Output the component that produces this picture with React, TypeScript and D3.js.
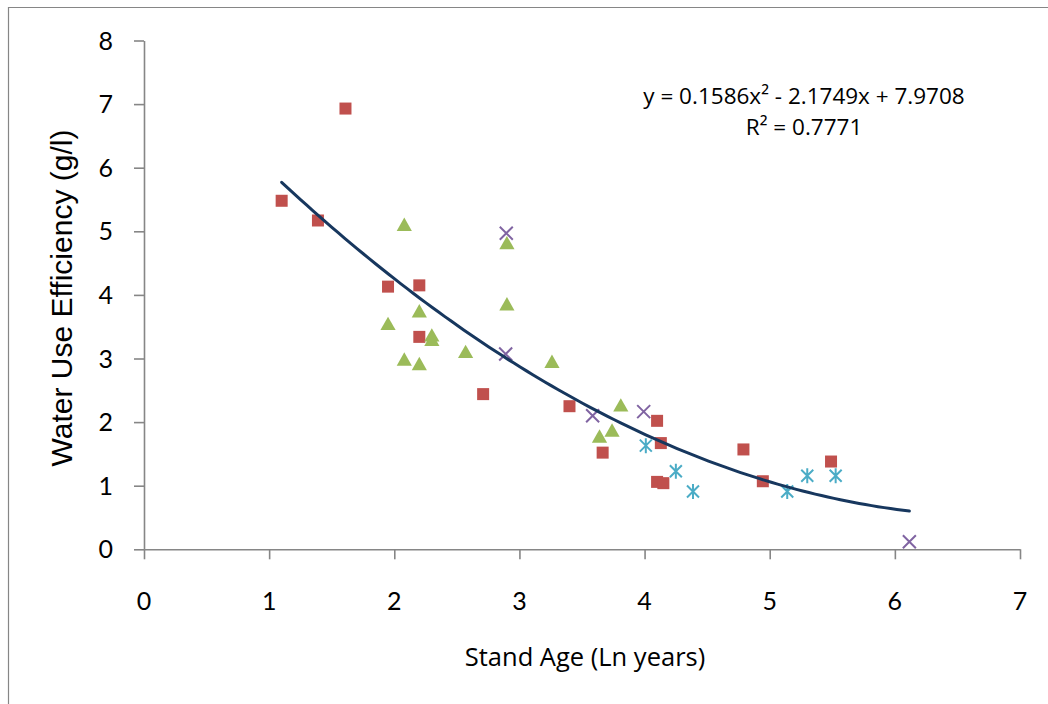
import React, { useEffect, useRef } from "react";
import * as d3 from "d3";

// stand age (ln years) / water use efficiency (g/l), one array pair per series
const squareX = [1.1, 1.39, 1.61, 1.95, 2.2, 2.2, 2.71, 3.4, 3.665, 4.1, 4.13, 4.1, 4.15, 4.79, 4.945, 5.49];
const squareY = [5.48, 5.17, 6.93, 4.13, 4.15, 3.34, 2.44, 2.25, 1.52, 2.02, 1.67, 1.06, 1.04, 1.57, 1.07, 1.38];

const triangleX = [2.08, 2.9, 2.9, 2.2, 1.95, 2.3, 2.3, 2.08, 2.2, 2.57, 3.26, 3.81, 3.74, 3.64];
const triangleY = [5.11, 4.82, 3.86, 3.75, 3.55, 3.37, 3.3, 2.99, 2.92, 3.11, 2.955, 2.27, 1.875, 1.78];

const crossX = [2.895, 2.89, 3.585, 3.993, 6.116];
const crossY = [4.97, 3.07, 2.1, 2.165, 0.12];

const starX = [4.01, 4.25, 4.387, 5.14, 5.3, 5.527];
const starY = [1.63, 1.226, 0.91, 0.91, 1.157, 1.157];

// polynomial trendline coefficients: a*x^2 + b*x + c
const trendCoef = [0.1586, -2.1749, 7.9708];
const equationLines = ["y = 0.1586x\u00B2 - 2.1749x + 7.9708", "R\u00B2 = 0.7771"];

const xTicks = [0, 1, 2, 3, 4, 5, 6, 7];
const yTicks = [0, 1, 2, 3, 4, 5, 6, 7, 8];

const xTitle = "Stand Age (Ln years)";
const yTitle = "Water Use Efficiency (g/l)";

function App() {
    const svgRef = useRef<SVGSVGElement | null>(null);

    let width = 1048;
    let height = 704;

    let plot = { left: 144, right: 1020, top: 40.5, bottom: 549.3 };

    let axisColor = "#868686";
    let labelFont = "Lato, 'Open Sans', sans-serif";
    let textFont = "'Open Sans', Lato, sans-serif";
    let redColor = "#C0504D";
    let greenColor = "#9BBB59";
    let purpleColor = "#8064A2";
    let cyanColor = "#4BACC6";
    let trendColor = "#17375E";

    useEffect(() => {
        let svg = d3.select(svgRef.current);
        svg.selectAll("*").remove();

        let xScale = d3.scaleLinear().domain([0, 7]).range([plot.left, plot.right]);
        let yScale = d3.scaleLinear().domain([0, 8]).range([plot.bottom, plot.top]);

        svg.append("rect")
            .attr("width", width)
            .attr("height", height)
            .style("fill", "#ffffff");

        // chart frame (cut off on right and bottom)
        svg.append("path")
            .attr("d", "M8.5," + height + " L8.5,7.5 L" + width + ",7.5")
            .style("fill", "none")
            .style("stroke", axisColor)
            .style("stroke-width", 1.2);

        // y axis
        let yAxis = d3.axisLeft(yScale).tickValues(yTicks).tickSizeInner(10).tickSizeOuter(0).tickFormat(() => "");
        let yg = svg.append("g").attr("transform", "translate(" + plot.left + ",0)").call(yAxis);
        yg.selectAll("path, line").style("stroke", axisColor).style("stroke-width", 1.6);

        // x axis
        let xAxis = d3.axisBottom(xScale).tickValues(xTicks).tickSizeInner(10).tickSizeOuter(0).tickFormat(() => "");
        let xg = svg.append("g").attr("transform", "translate(0," + plot.bottom + ")").call(xAxis);
        xg.selectAll("path, line").style("stroke", axisColor).style("stroke-width", 1.6);

        svg.selectAll(".y-label")
            .data(yTicks)
            .enter()
            .append("text")
            .attr("class", "y-label")
            .attr("x", plot.left - 31)
            .attr("y", (d) => yScale(d))
            .attr("dy", "0.36em")
            .attr("text-anchor", "end")
            .style("font-family", labelFont)
            .style("font-size", "25px")
            .style("fill", "#000")
            .text((d) => d);

        svg.selectAll(".x-label")
            .data(xTicks)
            .enter()
            .append("text")
            .attr("class", "x-label")
            .attr("x", (d) => xScale(d))
            .attr("y", 610)
            .attr("text-anchor", "middle")
            .style("font-family", labelFont)
            .style("font-size", "25px")
            .style("fill", "#000")
            .text((d) => d);

        // axis titles
        svg.append("text")
            .attr("x", 585)
            .attr("y", 666)
            .attr("text-anchor", "middle")
            .style("font-family", textFont)
            .style("font-size", "25.5px")
            .style("fill", "#000")
            .text(xTitle);

        svg.append("text")
            .attr("text-anchor", "middle")
            .attr("transform", "translate(72,298) rotate(-90)")
            .style("font-family", "'Liberation Sans', Arial, sans-serif")
            .style("font-size", "30px")
            .style("fill", "#000")
            .text(yTitle);

        // trendline
        let allX = squareX.concat(triangleX, crossX, starX);
        let xMin = d3.min(allX) as number;
        let xMax = d3.max(allX) as number;
        let xs = d3.range(0, 101).map((i) => xMin + ((xMax - xMin) * i) / 100);
        let trend = (x: number) => trendCoef[0] * x * x + trendCoef[1] * x + trendCoef[2];

        let line = d3
            .line<number>()
            .x((d) => xScale(d))
            .y((d) => yScale(trend(d)));

        // markers
        let sq = 12;
        svg.selectAll(".sq")
            .data(squareX)
            .enter()
            .append("rect")
            .attr("class", "sq")
            .attr("x", (d) => xScale(d) - sq / 2)
            .attr("y", (d, i) => yScale(squareY[i]) - sq / 2)
            .attr("width", sq)
            .attr("height", sq)
            .style("fill", redColor);

        svg.selectAll(".tri")
            .data(triangleX)
            .enter()
            .append("path")
            .attr("class", "tri")
            .attr("transform", (d, i) => "translate(" + xScale(d) + "," + yScale(triangleY[i]) + ")")
            .attr("d", "M0,-6.8 L7.6,6.6 L-7.6,6.6 Z")
            .style("fill", greenColor);

        svg.selectAll(".cross")
            .data(crossX)
            .enter()
            .append("path")
            .attr("class", "cross")
            .attr("transform", (d, i) => "translate(" + xScale(d) + "," + yScale(crossY[i]) + ")")
            .attr("d", "M-6.5,-6.5 L6.5,6.5 M-6.5,6.5 L6.5,-6.5")
            .style("fill", "none")
            .style("stroke", purpleColor)
            .style("stroke-width", 2);

        svg.selectAll(".star")
            .data(starX)
            .enter()
            .append("path")
            .attr("class", "star")
            .attr("transform", (d, i) => "translate(" + xScale(d) + "," + yScale(starY[i]) + ")")
            .attr("d", "M-6,-6 L6,6 M-6,6 L6,-6 M0,-7.5 L0,7.5")
            .style("fill", "none")
            .style("stroke", cyanColor)
            .style("stroke-width", 2);

        svg.append("path")
            .datum(xs)
            .attr("d", line)
            .style("fill", "none")
            .style("stroke", trendColor)
            .style("stroke-width", 3)
            .style("stroke-linecap", "round");

        // equation label
        svg.selectAll(".eq")
            .data(equationLines)
            .enter()
            .append("text")
            .attr("class", "eq")
            .attr("x", 804)
            .attr("y", (d, i) => 104 + i * 31)
            .attr("text-anchor", "middle")
            .style("font-family", textFont)
            .style("font-size", "22.5px")
            .style("fill", "#000")
            .text((d) => d);
    }, []);

    return (
        <svg
            ref={svgRef}
            width={width}
            height={height}
            style={{ position: "absolute", left: 0, top: 0, display: "block" }}
        ></svg>
    );
}

export default App;
